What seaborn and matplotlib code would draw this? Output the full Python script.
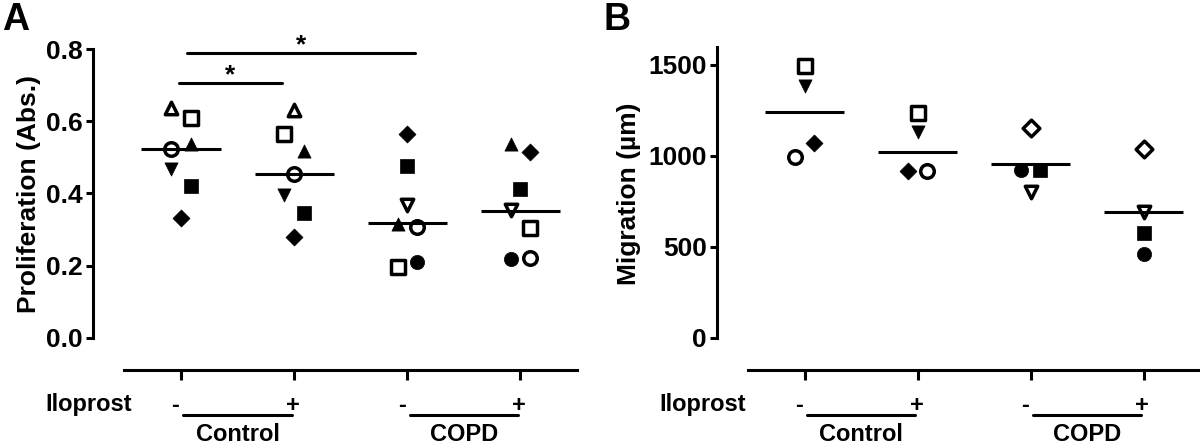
import numpy as np
import pandas as pd
import matplotlib.pyplot as plt
import matplotlib.transforms as mtransforms
import seaborn as sns

sns.set_style('ticks', rc={'axes.edgecolor': 'black', 'text.color': 'black',
                           'xtick.color': 'black', 'ytick.color': 'black',
                           'axes.labelcolor': 'black'})
plt.rcParams['font.family'] = ['Liberation Sans Narrow', 'Liberation Sans', 'DejaVu Sans']
plt.rcParams['font.weight'] = 'bold'

# groups along the x axis: Control -, Control +, COPD -, COPD +
iloprost = ['-', '+', '-', '+']
disease = ['Control', 'COPD']

# Panel A - proliferation (absorbance), one point per donor
prolif_group = [0] * 7 + [1] * 7 + [2] * 7 + [3] * 7
prolif_value = [0.636, 0.608, 0.522, 0.536, 0.468, 0.420, 0.333,
                0.631, 0.564, 0.518, 0.455, 0.395, 0.347, 0.280,
                0.564, 0.476, 0.367, 0.315, 0.308, 0.197, 0.209,
                0.536, 0.514, 0.412, 0.354, 0.303, 0.218, 0.221]
prolif_marker = ['^', 's', 'o', '^', 'v', 's', 'D',
                 '^', 's', '^', 'o', 'v', 's', 'D',
                 'D', 's', 'v', '^', 'o', 's', 'o',
                 '^', 'D', 's', 'v', 's', 'o', 'o']
prolif_hollow = [1, 1, 1, 0, 0, 0, 0,
                 1, 1, 0, 1, 0, 0, 0,
                 0, 0, 1, 0, 1, 1, 0,
                 0, 0, 0, 1, 1, 0, 1]
prolif_side = [-1, 1, -1, 1, -1, 1, 0,
               0, -1, 1, 0, -1, 1, 0,
               0, 0, 0, -1, 1, -1, 1,
               -1, 1, 0, -1, 1, -1, 1]
prolif_centre = [0.522, 0.455, 0.317, 0.352]

# significance bars: (from group, to group, height)
prolif_sig = [(0.05, 2.07, 0.788), (-0.02, 0.89, 0.705)]

# Panel B - migration distance (um)
migr_group = [0] * 4 + [1] * 4 + [2] * 4 + [3] * 4
migr_value = [1494, 1383, 993, 1073,
              1236, 1130, 919, 919,
              1152, 922, 922, 804,
              1038, 692, 574, 460]
migr_marker = ['s', 'v', 'o', 'D',
               's', 'v', 'D', 'o',
               'D', 'o', 's', 'v',
               'D', 'v', 's', 'o']
migr_hollow = [1, 0, 1, 0,
               1, 0, 0, 1,
               1, 0, 0, 1,
               1, 1, 0, 0]
migr_side = [0, 0, -1, 1,
             0, 0, -1, 1,
             0, -1, 1, 0,
             0, 0, 0, 0]
migr_centre = [1240, 1019, 954, 690]

SIZES = {('o', 1): 95, ('s', 1): 105, ('^', 1): 80, ('v', 1): 80, ('D', 1): 72,
         ('o', 0): 105, ('s', 0): 90, ('^', 0): 90, ('v', 0): 90, ('D', 0): 75}
FS = 19      # tick labels
FS_X = 17    # labels under the x axis

fig = plt.figure(figsize=(12, 4.47), dpi=100)


def draw_panel(rect, group, value, marker, hollow, side, centre, ymax, yticks, fmt,
               ylabel, ylabel_x, letter, letter_x, iloprost_x):
    ax = fig.add_axes(rect)
    df = pd.DataFrame({'group': group, 'value': value, 'marker': marker,
                       'hollow': hollow, 'side': side})
    df['x'] = df['group'] + df['side'] * 0.085
    for (m, h), sub in df.groupby(['marker', 'hollow']):
        sns.scatterplot(data=sub, x='x', y='value', marker=m, s=SIZES[(m, h)],
                        color='white' if h else 'black', edgecolor='black',
                        linewidth=2.5 if h else 0.5, legend=False, ax=ax, zorder=3)
    pos = np.arange(len(centre))
    ax.hlines(centre, pos - 0.35, pos + 0.35, color='black', lw=2.2, zorder=4)

    span = ymax / 0.8 * 0.0895 if ymax < 10 else 177.7
    top = ymax + (ymax / 0.8 * 0.053 if ymax < 10 else 92.5)
    ax.set_xlim(-0.78, 3.5)
    ax.set_ylim(-span, top)
    sns.despine(ax=ax)
    ax.spines['left'].set_bounds(0, ymax)
    ax.spines['bottom'].set_bounds(-0.5, 3.5)
    for s in ('left', 'bottom'):
        ax.spines[s].set_linewidth(2.2)
    ax.set_xticks(range(4))
    ax.set_xticklabels([])
    ax.set_yticks(yticks)
    ax.set_yticklabels([fmt.format(t) for t in yticks])
    ax.tick_params(axis='x', length=7, width=2.2, direction='out')
    ax.tick_params(axis='y', length=5, width=2.2, labelsize=FS, pad=2)
    ax.set_xlabel('')
    ax.set_ylabel('')

    trans = mtransforms.blended_transform_factory(ax.transData, fig.transFigure)
    ax.text(iloprost_x, 0.0805, 'Iloprost', ha='right', va='baseline',
            fontsize=FS_X, transform=trans)
    for i, sign in enumerate(iloprost):
        ax.text(i - (0.05 if sign == '-' else 0.01), 0.0783, sign, ha='center',
                va='baseline', fontsize=FS_X, transform=trans)
    for j, name in enumerate(disease):
        g = 2 * j
        ax.plot([g + 0.02, g + 0.98], [0.0716, 0.0716], color='black', lw=2.2,
                transform=trans, clip_on=False)
        ax.text(g + 0.5, 0.0134, name, ha='center', va='baseline', fontsize=FS_X,
                transform=trans)

    fig.text(ylabel_x, 1 - 194 / 447, ylabel, rotation=90, ha='center', va='center',
             fontsize=19)
    fig.text(letter_x, 1 - 30 / 447, letter, ha='left', va='baseline', fontsize=27)
    return ax


ax_a = draw_panel([92.7 / 1200, 1 - 370 / 447, 484.3 / 1200, 340 / 447],
                  prolif_group, prolif_value, prolif_marker, prolif_hollow,
                  prolif_side, prolif_centre, 0.8, [0, 0.2, 0.4, 0.6, 0.8], '{:.1f}',
                  'Proliferation (Abs.)', 29 / 1200, 'A', 2 / 1200, -0.43)
for x0, x1, y in prolif_sig:
    ax_a.plot([x0, x1], [y, y], color='black', lw=2.2, clip_on=False)
    ax_a.text((x0 + x1) / 2, y + 0.003, '*', ha='center', va='baseline', fontsize=FS)

ax_b = draw_panel([716.7 / 1200, 1 - 370 / 447, 483.3 / 1200, 340 / 447],
                  migr_group, migr_value, migr_marker, migr_hollow,
                  migr_side, migr_centre, 1600, [0, 500, 1000, 1500], '{:.0f}',
                  'Migration (\u00b5m)', 629 / 1200, 'B', 604 / 1200, -0.52)

fig.savefig('out.png', dpi=100)
